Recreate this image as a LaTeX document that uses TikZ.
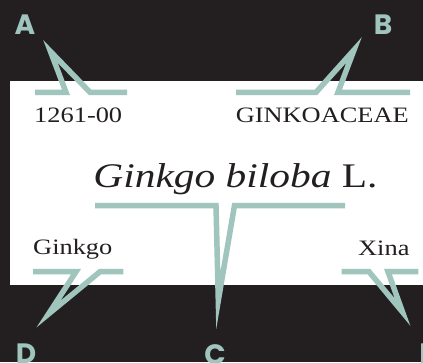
\documentclass[tikz,border=0pt]{standalone}
\usepackage{fontspec}
\setmainfont{Liberation Serif}[FakeStretch=1.2]
\newfontfamily\lblfont{Poppins}
\definecolor{bg}{RGB}{35,31,32}
\definecolor{tealc}{RGB}{159,197,188}
\definecolor{ink}{RGB}{35,31,32}
\begin{document}
\begin{tikzpicture}[x=1pt,y=-1pt,
  callout/.style={draw=tealc, line width=5.5pt, line join=miter, miter limit=40},
  lbl/.style={text=tealc, font=\lblfont\bfseries\fontsize{28}{28}\selectfont, inner sep=0pt, anchor=base},
  txt/.style={text=ink, font=\fontsize{22}{22}\selectfont, inner sep=0pt, anchor=base west},
]
\clip (0,0) rectangle (423,362);
\fill[bg] (0,0) rectangle (423,362);
\fill[white] (10,81) rectangle (423,285);

% labels
\node[lbl] (A) at (25,34) {A};
\node[lbl] (B) at (383,34) {B};
\node[lbl] (C) at (215,364) {C};
\node[lbl] (D) at (26,363) {D};
\node[lbl] (E) at (427,363) {E};

% texts
\node[txt] (num) at (34,122) {1261-00};
\node[txt, anchor=base east] (fam) at (409,122) {GINKOACEAE};
\node[txt, anchor=base, font=\fontsize{34.5}{34.5}\selectfont] (sp) at (235.5,187) {\textit{Ginkgo biloba} L.};
\node[txt] (gen) at (33,254) {Ginkgo};
\node[txt, anchor=base east] (cty) at (409.7,255) {Xina};

% callout vertices
\coordinate (vA) at (50.5,51.5);
\coordinate (vB) at (354,50);
\coordinate (vC) at (218.3,300.5);
\coordinate (vD) at (48.5,314);
\coordinate (vE) at (402.5,312);

% callouts
\draw[callout] (35,92.3) -- (66,92.3) -- (vA) -- (90,92.3) -- (127,92.3);
\draw[callout] (236,92.3) -- (316,92.3) -- (vB) -- (338,92.3) -- (410,92.3);
\draw[callout] (95,205.5) -- (216,205.5) -- (vC) -- (234.5,205.5) -- (345,205.5);
\draw[callout] (33,271.7) -- (76,271.7) -- (vD) -- (100,271.7) -- (123.3,271.7);
\draw[callout] (341.7,271.7) -- (369,271.7) -- (vE) -- (388,271.7) -- (418.3,271.7);
\end{tikzpicture}
\end{document}
